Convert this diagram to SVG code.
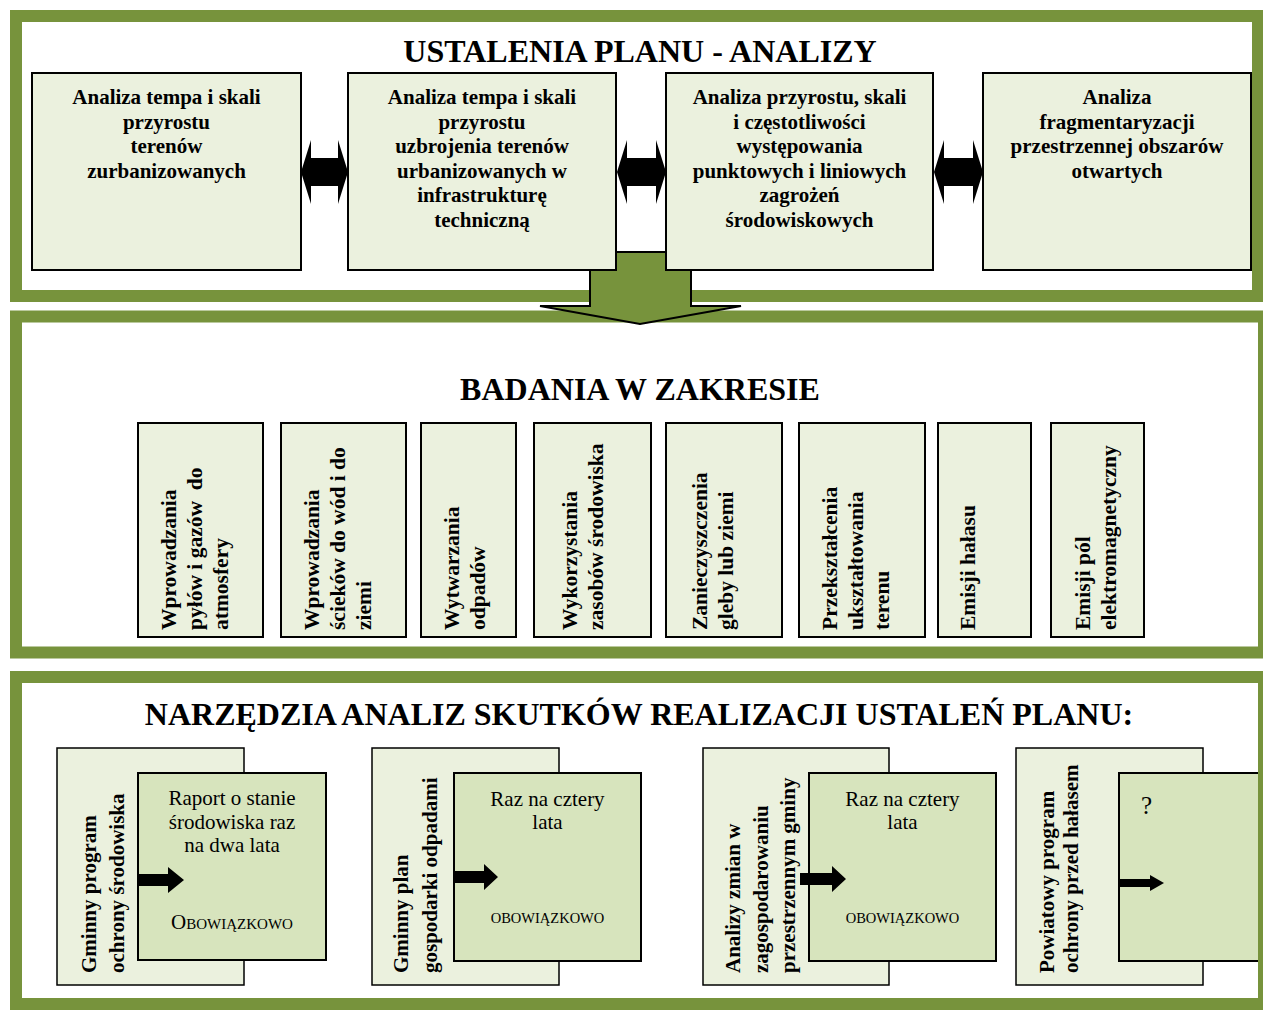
<svg xmlns="http://www.w3.org/2000/svg" width="1263" height="1012" viewBox="0 0 1263 1012">
<style>
.panel{fill:#ffffff;stroke:#77933C;stroke-width:12}
.box{fill:#EBF1DE;stroke:#000;stroke-width:2}
.back{fill:#EBF1DE;stroke:#000;stroke-width:1.5}
.front{fill:#D7E4BD;stroke:#000;stroke-width:2}
.t{font-family:"Liberation Serif","Times New Roman",serif;fill:#000}
.title{font-size:32px;font-weight:bold;text-anchor:middle}
.bt{font-size:21px;font-weight:bold;text-anchor:middle}
.vt{font-size:21.5px;font-weight:bold}
.vb{font-size:21px;font-weight:bold}
.rt{font-size:21px;text-anchor:middle}
.ob{font-size:14.5px;text-anchor:middle}
.arr{fill:#000}
.big{fill:#77933C;stroke:#000;stroke-width:2;stroke-linejoin:miter}
</style>
<rect width="1263" height="1012" fill="#ffffff"/>
<g id="panel-ustalenia">
<rect class="panel" x="16" y="16" width="1242" height="280"/>
<text class="t title" x="640" y="62">USTALENIA PLANU - ANALIZY</text>
</g>
<g id="panel-badania">
<rect class="panel" x="16" y="316.5" width="1248" height="336"/>
<text class="t title" x="640" y="400">BADANIA W ZAKRESIE</text>
</g>
<g id="panel-narzedzia">
<rect class="panel" x="16" y="677" width="1248" height="327"/>
<text class="t title" x="639" y="725">NARZĘDZIA ANALIZ SKUTKÓW REALIZACJI USTALEŃ PLANU:</text>
</g>

<g id="a1">
<rect class="box" x="32" y="73" width="269" height="197"/>
<text class="t bt"><tspan x="166.5" y="104">Analiza tempa i skali</tspan><tspan x="166.5" y="128.5">przyrostu</tspan><tspan x="166.5" y="153">terenów</tspan><tspan x="166.5" y="177.5">zurbanizowanych</tspan></text>
</g>
<g id="a2">
<rect class="box" x="348" y="73" width="268" height="197"/>
<text class="t bt"><tspan x="482" y="104">Analiza tempa i skali</tspan><tspan x="482" y="128.5">przyrostu</tspan><tspan x="482" y="153">uzbrojenia terenów</tspan><tspan x="482" y="177.5">urbanizowanych w</tspan><tspan x="482" y="202">infrastrukturę</tspan><tspan x="482" y="226.5">techniczną</tspan></text>
</g>
<g id="a3">
<rect class="box" x="666" y="73" width="267" height="197"/>
<text class="t bt"><tspan x="799.5" y="104">Analiza przyrostu, skali</tspan><tspan x="799.5" y="128.5">i częstotliwości</tspan><tspan x="799.5" y="153">występowania</tspan><tspan x="799.5" y="177.5">punktowych i liniowych</tspan><tspan x="799.5" y="202">zagrożeń</tspan><tspan x="799.5" y="226.5">środowiskowych</tspan></text>
</g>
<g id="a4">
<rect class="box" x="983" y="73" width="268" height="197"/>
<text class="t bt"><tspan x="1117" y="104">Analiza</tspan><tspan x="1117" y="128.5">fragmentaryzacji</tspan><tspan x="1117" y="153">przestrzennej obszarów</tspan><tspan x="1117" y="177.5">otwartych</tspan></text>
</g>

<g id="b1">
<rect class="box" x="138" y="423" width="125" height="214"/>
<text class="t vt" transform="translate(176,630) rotate(-90)">Wprowadzania</text>
<text class="t vt" xml:space="preserve" transform="translate(202,630) rotate(-90)">pyłów i gazów  do</text>
<text class="t vt" transform="translate(228,630) rotate(-90)">atmosfery</text>
</g>
<g id="b2">
<rect class="box" x="281" y="423" width="125" height="214"/>
<text class="t vt" transform="translate(319,630) rotate(-90)">Wprowadzania</text>
<text class="t vt" transform="translate(345,630) rotate(-90)">ścieków do wód i do</text>
<text class="t vt" transform="translate(371,630) rotate(-90)">ziemi</text>
</g>
<g id="b3">
<rect class="box" x="421" y="423" width="95" height="214"/>
<text class="t vt" transform="translate(459,630) rotate(-90)">Wytwarzania</text>
<text class="t vt" transform="translate(485,630) rotate(-90)">odpadów</text>
</g>
<g id="b4">
<rect class="box" x="534" y="423" width="117" height="214"/>
<text class="t vt" transform="translate(577,630) rotate(-90)">Wykorzystania</text>
<text class="t vt" transform="translate(603,630) rotate(-90)">zasobów środowiska</text>
</g>
<g id="b5">
<rect class="box" x="666" y="423" width="116" height="214"/>
<text class="t vt" transform="translate(707,630) rotate(-90)">Zanieczyszczenia</text>
<text class="t vt" transform="translate(733,630) rotate(-90)">gleby lub ziemi</text>
</g>
<g id="b6">
<rect class="box" x="799" y="423" width="126" height="214"/>
<text class="t vt" transform="translate(837,630) rotate(-90)">Przekształcenia</text>
<text class="t vt" transform="translate(863,630) rotate(-90)">ukształtowania</text>
<text class="t vt" transform="translate(889,630) rotate(-90)">terenu</text>
</g>
<g id="b7">
<rect class="box" x="938" y="423" width="93" height="214"/>
<text class="t vt" transform="translate(975,630) rotate(-90)">Emisji hałasu</text>
</g>
<g id="b8">
<rect class="box" x="1051" y="423" width="93" height="214"/>
<text class="t vt" transform="translate(1090,630) rotate(-90)">Emisji pól</text>
<text class="t vt" transform="translate(1116,630) rotate(-90)">elektromagnetyczny</text>
</g>

<g id="c1-program">
<rect class="back" x="57" y="748" width="187" height="237"/>
<text class="t vb" transform="translate(96,973) rotate(-90)">Gminny program</text>
<text class="t vb" transform="translate(124,973) rotate(-90)">ochrony środowiska</text>
</g>
<g id="c1-raport">
<rect class="front" x="138" y="773" width="188" height="187"/>
<text class="t rt"><tspan x="232" y="805">Raport o stanie</tspan><tspan x="232" y="829">środowiska raz</tspan><tspan x="232" y="852">na dwa lata</tspan></text>
<text class="t rt" x="232" y="929"><tspan font-size="21">O</tspan><tspan font-size="15">BOWIĄZKOWO</tspan></text>
</g>
<g id="c2-plan">
<rect class="back" x="372" y="748" width="187" height="237"/>
<text class="t vb" transform="translate(408,973) rotate(-90)">Gminny plan</text>
<text class="t vb" transform="translate(437,973) rotate(-90)">gospodarki odpadami</text>
</g>
<g id="c2-raz">
<rect class="front" x="454" y="773" width="187" height="188"/>
<text class="t rt"><tspan x="547.5" y="806">Raz na cztery</tspan><tspan x="547.5" y="829">lata</tspan></text>
<text class="t ob" x="547.5" y="923">OBOWIĄZKOWO</text>
</g>
<g id="c3-analizy">
<rect class="back" x="703" y="748" width="186" height="237"/>
<text class="t vb" transform="translate(740,973) rotate(-90)">Analizy zmian w</text>
<text class="t vb" transform="translate(768,973) rotate(-90)">zagospodarowaniu</text>
<text class="t vb" transform="translate(795,973) rotate(-90)">przestrzennym gminy</text>
</g>
<g id="c3-raz">
<rect class="front" x="809" y="773" width="187" height="188"/>
<text class="t rt"><tspan x="902.5" y="806">Raz na cztery</tspan><tspan x="902.5" y="829">lata</tspan></text>
<text class="t ob" x="902.5" y="923">OBOWIĄZKOWO</text>
</g>
<g id="c4-powiatowy">
<rect class="back" x="1016" y="748" width="187" height="237"/>
<text class="t vb" transform="translate(1054,973) rotate(-90)">Powiatowy program</text>
<text class="t vb" transform="translate(1078,973) rotate(-90)">ochrony przed hałasem</text>
</g>
<g id="c4-nieznane">
<rect x="1119" y="773" width="139" height="188" fill="#D7E4BD"/>
<path d="M1258,773 H1119 V961 H1258" fill="none" stroke="#000" stroke-width="2"/>
<text class="t" font-size="25" x="1141" y="814">?</text>
</g>

<g id="connectors">
<polygon class="arr" points="301,172 311,140 311,158 338,158 338,140 348,172 338,204 338,186 311,186 311,204"/>
<polygon class="arr" points="617,172 627,140 627,158 656,158 656,140 666,172 656,204 656,186 627,186 627,204"/>
<polygon class="arr" points="934,172 944,140 944,158 973,158 973,140 983,172 973,204 973,186 944,186 944,204"/>
<polygon class="big" points="616,270 616,252 666,252 666,270 691,270 691,306 741,306 640,324 540,306 590,306 590,270"/>
<polygon class="arr" points="138,874 168,874 168,867 184,880 168,893 168,886 138,886"/>
<polygon class="arr" points="454,871 484,871 484,864 498,877 484,890 484,883 454,883"/>
<polygon class="arr" points="800,873 832,873 832,866 846,879 832,892 832,885 800,885"/>
<polygon class="arr" points="1119,879 1150,879 1150,875 1164,883 1150,891 1150,887 1119,887"/>
</g>
</svg>
